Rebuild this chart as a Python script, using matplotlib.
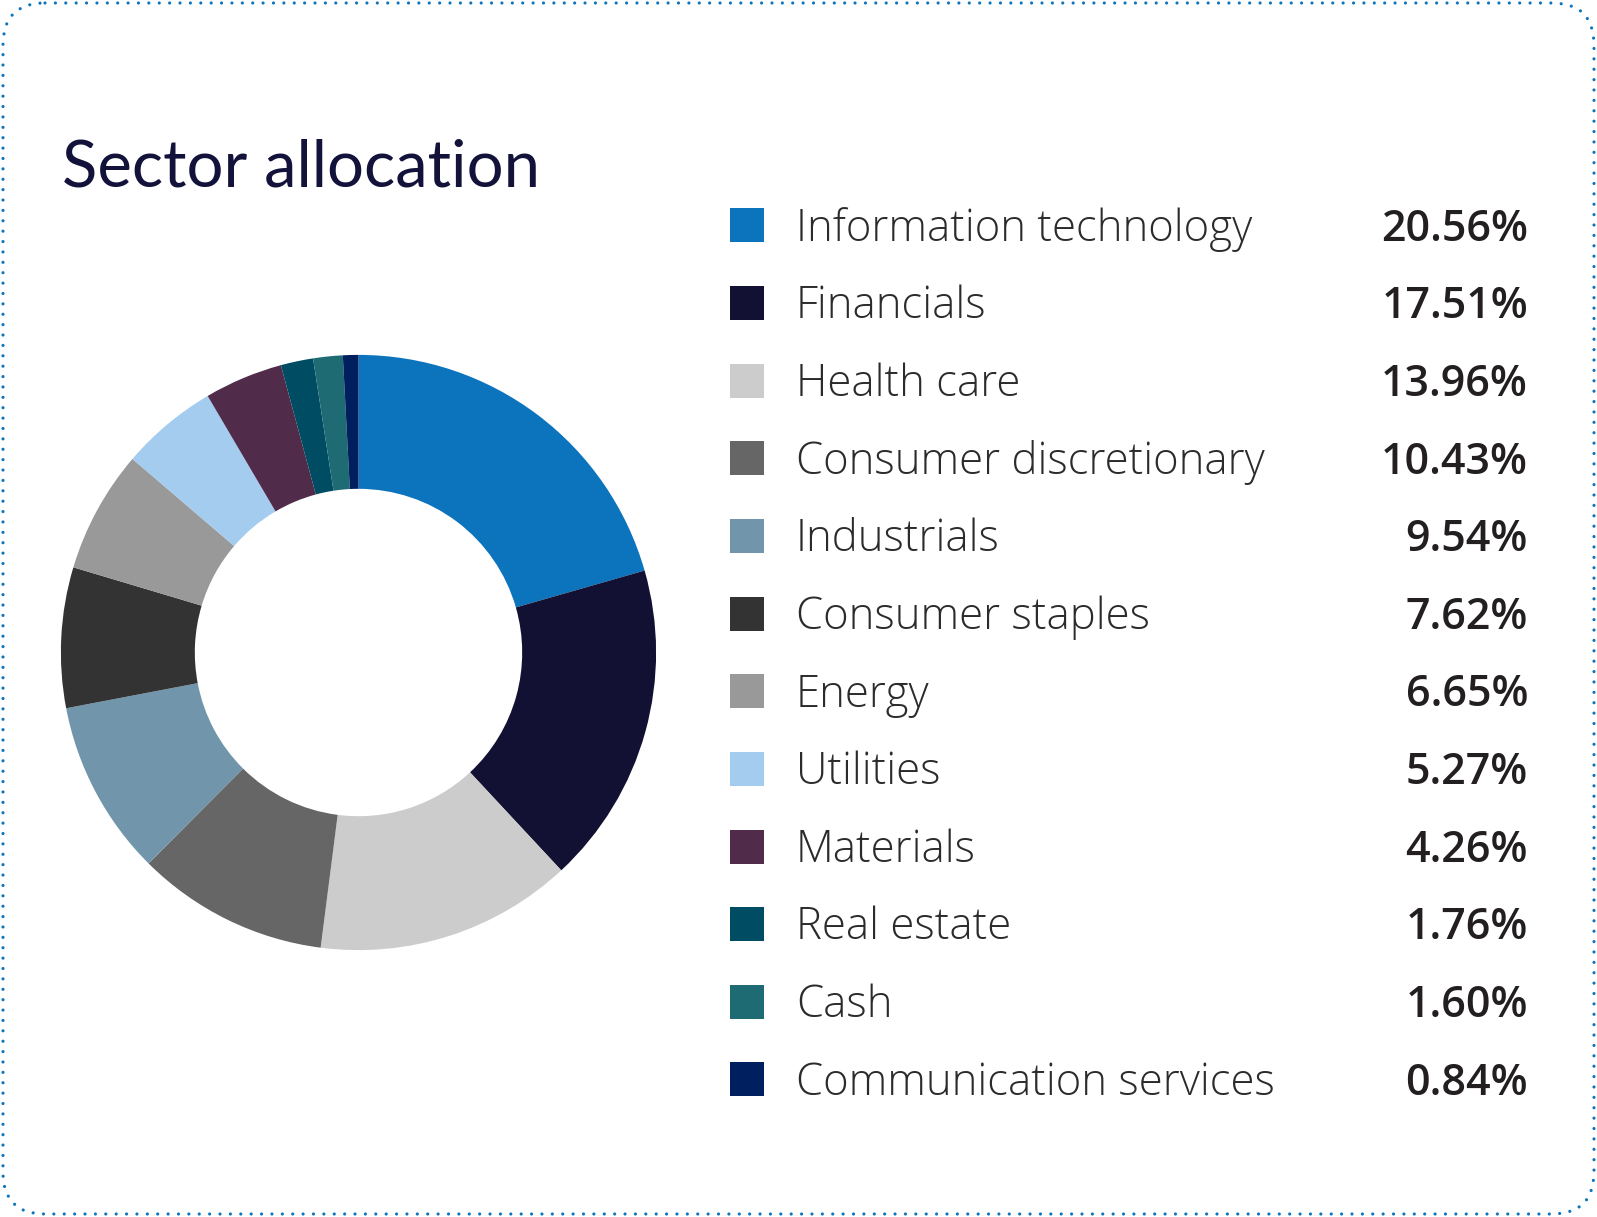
import matplotlib
matplotlib.use("Agg")
import matplotlib.pyplot as plt
from matplotlib.patches import FancyBboxPatch, Rectangle

# ---- data ----
sectors = ["Information technology", "Financials", "Health care",
           "Consumer discretionary", "Industrials", "Consumer staples",
           "Energy", "Utilities", "Materials", "Real estate", "Cash",
           "Communication services"]
weights = [20.56, 17.51, 13.96, 10.43, 9.54, 7.62, 6.65, 5.27, 4.26, 1.76, 1.60, 0.84]
colors = ["#0C73BD", "#121133", "#CCCCCC", "#666666", "#7195AB", "#333333",
          "#999999", "#A3CCEE", "#502C4A", "#004C63", "#1F6B74", "#001F5F"]
title = "Sector allocation"

W, H = 1597, 1217
fig = plt.figure(figsize=(W / 100, H / 100), dpi=100)
fig.patch.set_facecolor("white")

# overlay axes in pixel coordinates
ov = fig.add_axes([0, 0, 1, 1])
ov.set_xlim(0, W)
ov.set_ylim(H, 0)
ov.axis("off")

# dotted rounded border
border = FancyBboxPatch((3, 3), W - 6, H - 6,
                        boxstyle="round,pad=0,rounding_size=42",
                        facecolor="none", edgecolor="#0C73BD",
                        linewidth=2.3, linestyle=(0, (0.001, 3.25)),
                        capstyle="round")
ov.add_patch(border)

# title
ov.text(62, 186.7, title, fontsize=47, family=["Lato", "DejaVu Sans"],
        color="#12123A", va="baseline", ha="left")

# donut
cx, cy, r = 358.5, 652.5, 297.6
ax = fig.add_axes([(cx - r) / W, (H - (cy + r)) / H, 2 * r / W, 2 * r / H])
ax.pie(weights, colors=colors, startangle=90, counterclock=False, radius=1,
       wedgeprops=dict(width=0.45, edgecolor="none", linewidth=0))
ax.set_xlim(-1, 1)
ax.set_ylim(-1, 1)
ax.set_aspect("auto")
ax.axis("off")

# legend
y0, dy = 225.3, 77.65
for i, (name, val, col) in enumerate(zip(sectors, weights, colors)):
    yc = y0 + i * dy
    ov.add_patch(Rectangle((729.5, yc - 17), 34, 34, facecolor=col, edgecolor="none"))
    ov.text(796, yc + 15.3, name, fontsize=31.5, family=["Open Sans", "DejaVu Sans"],
            fontweight="light", color="#2B2B2B", va="baseline", ha="left")
    ov.text(1528, yc + 15.3, f"{val:.2f}%", fontsize=31, family=["Open Sans", "DejaVu Sans"],
            fontweight="semibold", color="#231F20", va="baseline", ha="right")

fig.savefig("out.png", dpi=100, facecolor="white")
